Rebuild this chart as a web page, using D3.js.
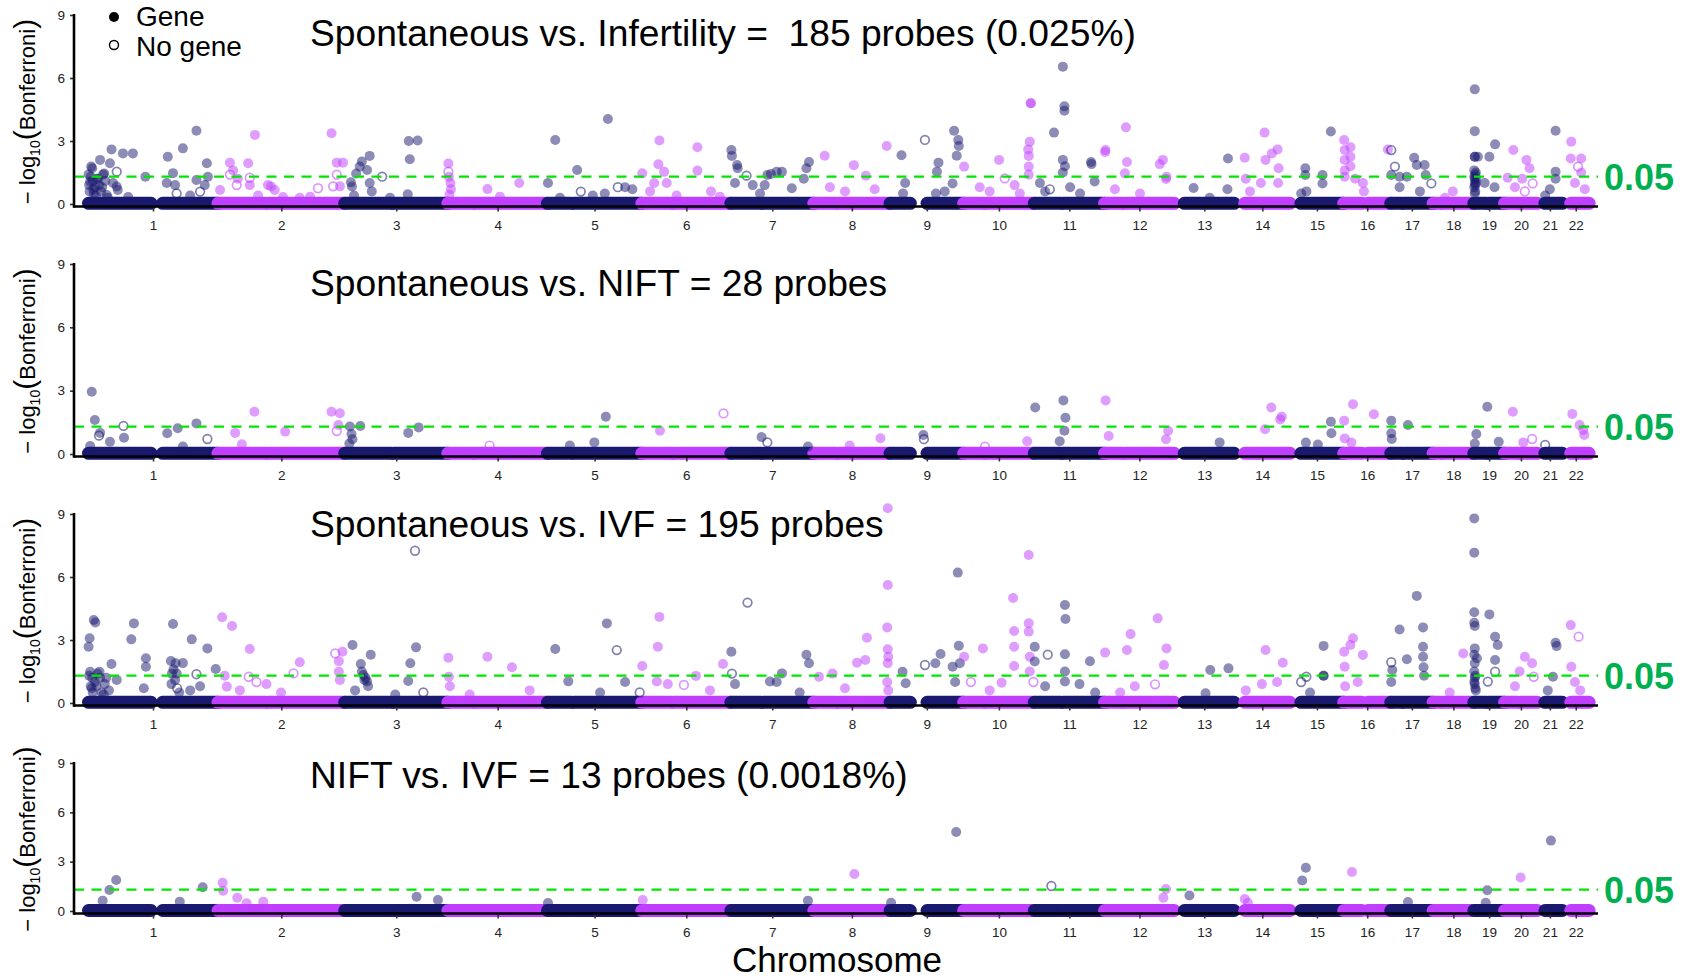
<!DOCTYPE html>
<html>
<head>
<meta charset="utf-8">
<script src="https://cdn.jsdelivr.net/npm/d3@7"></script>
<style>
  body { margin: 0; background: #fff; }
  svg { display: block; }
  text { font-family: "Liberation Sans", Arial, Helvetica, sans-serif; }
</style>
</head>
<body>
<svg id="chart" width="1688" height="979"></svg>
<script>
// ---- data -------------------------------------------------------------
const chromosomes = ["1","2","3","4","5","6","7","8","9","10","11","12","13","14","15","16","17","18","19","20","21","22"];
// chromosome lengths (Mb)
const chromLengthMb = [249.3,243.2,198.0,191.2,180.9,171.1,159.1,146.4,141.2,135.5,135.0,133.9,115.2,107.3,102.5,90.4,81.2,78.1,59.1,63.0,48.1,51.3];
// stretches covered by probes (chromosome, start Mb, end Mb)
const probeSpans = [
  [1,0.8,121],[1,143,249],[2,0.1,92],[2,96,243],[3,0.1,90],[3,94,198],[4,0.1,49],[4,52,191],
  [5,0.1,46],[5,50,181],[6,0.2,58],[6,62,171],[7,0.1,58],[7,62,159],[8,0.1,43],[8,47,146],
  [9,0.1,39],[9,71,141],[10,0.1,39],[10,43,135],[11,0.2,51],[11,55,135],[12,0.1,34],[12,38,133.8],
  [13,19.2,115],[14,20,107],[15,20.5,102.4],[16,0.1,35],[16,46.5,90.3],[17,0.1,22],[17,25,81.1],
  [18,0.1,15],[18,18.5,78],[19,0.2,24.5],[19,28,59],[20,0.1,26],[20,30,62.9],[21,14.5,48],[22,16,51.2]
];
const yTicks = [0, 3, 6, 9];
const bonferroniCut = 1.3;            // -log10(0.05)
const cutLabel = "0.05";
const panelTitles = [
  "Spontaneous vs. Infertility =  185 probes (0.025%)",
  "Spontaneous vs. NIFT = 28 probes",
  "Spontaneous vs. IVF = 195 probes",
  "NIFT vs. IVF = 13 probes (0.0018%)"
];
const legendLabels = ["Gene", "No gene"];

// probes above the background: [chromosome, position Mb, -log10(Bonferroni), annotated gene 1/0]
const spontVsInfertility = [
  [1,6,1.78,1],[1,23,2.1,1],[1,45,2.6,1],[1,67,2.41,1],[1,86,2.41,1],[1,42,1.94,1],[1,55,1.54,0],[1,29,1.41,1],
  [1,1,1.41,1],[1,4,1.06,1],[1,13,0.8,1],[1,17,1.2,1],[1,31,1.45,1],[1,8,1.7,1],[1,110,1.3,1],[1,36,0.43,1],
  [1,57,0.67,1],[1,77,0.33,1],[1,55,0.83,1],[1,11,0.5,1],[1,21,0.9,1],[1,25,0.6,1],[1,38,0.3,1],[1,48,1.0,1],
  [1,2,0.9,1],[1,3,0.6,1],[1,5,1.3,1],[1,9,1.1,1],[1,10,0.7,1],[1,15,0.4,1],[1,19,1.2,1],[1,27,0.8,1],[1,33,1.1,1],
  [1,153,2.25,1],[1,182,2.65,1],[1,208,3.49,1],[1,163,1.47,1],[1,151,1.0,1],[1,167,0.9,1],[1,228,1.94,1],
  [1,208,1.14,1],[1,224,0.9,1],[1,215,0.59,0],[1,170,0.5,0],[1,230,1.3,1],[1,196,0.4,1],
  [2,23,1.97,1],[2,29,1.6,1],[2,23,1.4,0],[2,38,1.2,1],[2,36,0.9,0],[2,4,0.67,1],[2,58,1.94,1],[2,61,1.25,0],
  [2,71,3.29,1],[2,61,0.9,1],[2,96,0.9,1],[2,109,0.67,1],[2,77,0.4,1],[2,125,0.33,1],[2,102,0.83,1],[2,192,0.75,0],
  [2,218,3.37,1],[2,228,1.97,1],[2,240,1.97,1],[2,228,1.4,0],[2,221,0.84,0],[2,234,0.84,1],[2,157,0.3,1],[2,177,0.35,1],
  [3,48,2.29,1],[3,33,2.02,1],[3,29,1.78,1],[3,43,1.62,1],[3,48,1.0,1],[3,14,0.83,1],[3,72,1.3,0],[3,123,3.0,1],
  [3,140,3.02,1],[3,125,2.13,1],[3,121,0.46,1],[3,12,1.03,1],[3,22,1.45,1],[3,52,0.6,1],[3,18,0.4,1],[3,87,0.3,1],
  [4,1,1.93,1],[4,1,1.54,0],[4,2,1.3,1],[4,5,1.0,1],[4,6,0.7,1],[4,3,0.45,1],[4,76,0.71,1],[4,137,1.0,1],[4,100,0.35,1],
  [5,1,1.0,1],[5,15,3.05,1],[5,57,1.62,1],[5,116,4.05,1],[5,64,0.59,0],[5,110,0.5,1],[5,135,0.8,0],[5,149,0.8,1],
  [5,163,0.7,1],[5,24,0.3,1],[5,87,0.4,1],
  [6,34,3.02,1],[6,32,1.89,1],[6,43,1.53,1],[6,24,1.0,1],[6,1,1.46,1],[6,48,1.0,1],[6,107,2.7,1],[6,107,1.59,1],
  [6,133,0.6,1],[6,67,0.4,1],[6,16,0.6,1],[6,150,0.35,1],
  [7,1,2.57,1],[7,2,2.29,1],[7,12,1.86,1],[7,13,1.7,1],[7,30,1.35,0],[7,42,0.9,1],[7,70,1.38,1],[7,77,1.43,1],
  [7,88,1.53,1],[7,98,1.53,1],[7,145,1.7,1],[7,150,2.0,1],[7,140,1.2,1],[7,65,0.9,1],[7,117,0.75,1],[7,8,1.0,1],[7,56,0.5,1],
  [8,21,2.3,1],[8,77,1.85,1],[8,100,1.35,1],[8,140,2.76,1],[8,31,0.8,1],[8,60,0.6,1],[8,117,0.7,1],
  [9,22,2.32,1],[9,67,3.05,0],[9,93,1.97,1],[9,123,3.49,1],[9,131,3.05,1],[9,132,2.76,1],[9,128,2.3,1],[9,120,0.98,1],
  [9,90,1.54,1],[9,88,0.5,1],[9,29,1.0,1],[9,25,0.5,1],[9,105,0.6,1],
  [10,68,2.1,1],[10,79,1.22,0],[10,124,2.6,1],[10,127,2.97,1],[10,129,4.8,1],[10,129,4.8,1],[10,125,2.29,1],
  [10,125,1.78,1],[10,125,1.4,1],[10,1,1.78,1],[10,31,0.8,1],[10,50,0.6,1],[10,98,0.9,1],[10,108,0.5,1],
  [11,38,3.4,1],[11,55,6.54,1],[11,58,4.65,1],[11,58,4.44,1],[11,55,2.1,1],[11,59,1.8,1],[11,55,1.5,1],[11,109,2.0,1],
  [11,110,1.9,1],[11,116,1.07,1],[11,11,1.0,1],[11,30,0.7,0],[11,21,0.6,1],[11,69,0.8,1],[11,88,0.5,1],
  [12,1,2.48,1],[12,2,2.57,1],[12,41,3.65,1],[12,43,2.0,1],[12,39,1.46,1],[12,106,1.9,1],[12,112,2.1,1],[12,118,1.19,1],
  [12,119,1.3,1],[12,20,0.7,1],[12,68,0.5,1],
  [13,37,0.76,1],[13,103,2.17,1],[13,102,0.7,1],[13,68,0.3,1],
  [14,20,2.2,1],[14,58,3.4,1],[14,72,2.41,1],[14,83,2.6,1],[14,60,2.1,1],[14,85,1.7,1],[14,84,1.0,1],[14,51,1.0,1],
  [14,30,0.6,1],[14,22,1.2,1],
  [15,29,1.7,1],[15,29,1.38,1],[15,62,1.38,1],[15,78,3.45,1],[15,62,0.98,1],[15,31,0.6,1],[15,21,0.5,1],
  [16,1,3.05,1],[16,2,2.57,1],[16,2,2.1,1],[16,2,1.6,1],[16,2,1.3,1],[16,13,2.7,1],[16,13,2.25,1],[16,13,1.8,1],
  [16,37,1.0,1],[16,39,0.6,1],[16,22,1.2,1],[16,85,2.6,1],
  [17,1,2.57,0],[17,8,1.78,0],[17,1,1.38,1],[17,17,1.3,1],[17,45,2.2,1],[17,50,1.86,1],[17,65,1.86,1],[17,67,1.38,1],
  [17,31,1.3,1],[17,17,0.8,1],[17,78,0.98,0],[17,56,0.6,1],
  [18,38,0.6,1],[18,23,0.3,1],
  [19,2,5.46,1],[19,2,3.47,1],[19,2,2.25,1],[19,2,2.25,1],[19,1,1.6,1],[19,3,1.4,1],[19,2,1.2,1],[19,4,1.0,1],
  [19,1,0.8,1],[19,3,0.6,1],[19,8,2.25,1],[19,30,2.25,1],[19,41,2.84,1],[19,21,1.0,1],[19,40,0.8,1],
  [19,1,1.3,1],[19,2,1.0,1],[19,3,0.9,1],[19,2,0.5,1],[19,4,1.5,1],[19,5,1.2,1],
  [20,17,2.57,1],[20,42,2.1,1],[20,48,1.7,1],[20,34,1.2,1],[20,6,1.25,1],[20,54,0.98,0],[20,39,0.6,0],[20,20,0.8,1],
  [21,35,3.49,1],[21,35,1.54,1],[21,35,1.2,1],[21,24,0.7,1],[21,15,0.4,1],
  [22,17,2.97,1],[22,36,2.17,1],[22,16,2.17,1],[22,30,1.78,0],[22,36,1.5,1],[22,24,1.0,1],[22,43,0.7,1]
];

const spontVsNift = [
  [1,7,2.95,1],[1,13,1.61,1],[1,23,1.0,1],[1,21,0.87,0],[1,42,0.58,1],[1,4,0.38,1],[1,68,1.33,0],[1,69,0.77,1],
  [1,152,0.98,1],[1,172,1.22,1],[1,208,1.45,1],[1,229,0.71,0],[1,182,0.35,1],
  [2,33,1.0,1],[2,46,0.46,1],[2,70,2.0,1],[2,129,1.06,1],[2,218,2.0,1],[2,234,1.93,1],[2,231,1.37,1],[2,228,1.09,0],
  [3,10,1.3,1],[3,30,1.33,1],[3,13,0.95,1],[3,15,0.7,1],[3,9,0.5,1],[3,122,1.0,1],[3,142,1.26,1],
  [4,80,0.4,0],
  [5,112,1.77,1],[5,90,0.55,1],[5,43,0.4,1],
  [6,35,1.1,1],[6,157,1.92,0],
  [7,59,0.8,1],[7,70,0.55,0],[7,148,0.35,1],
  [8,128,0.75,1],[8,69,0.4,1],
  [9,64,0.9,1],[9,65,0.7,0],
  [10,41,0.35,0],[10,122,0.6,1],
  [11,2,2.2,1],[11,56,2.54,1],[11,60,1.72,1],[11,58,1.1,1],[11,49,0.6,1],
  [12,2,2.54,1],[12,8,0.85,1],[12,122,1.1,1],[12,118,0.7,1],
  [13,87,0.55,1],
  [14,71,2.2,1],[14,91,1.77,1],[14,88,1.64,1],[14,59,1.17,1],
  [15,78,1.53,1],[15,79,0.98,1],[15,30,0.54,1],[15,53,0.45,1],
  [16,1,1.58,1],[16,2,0.74,1],[16,18,2.36,1],[16,15,0.54,1],[16,58,1.88,1],
  [17,1,1.58,1],[17,1,0.98,1],[17,2,0.71,1],[17,33,1.37,1],
  [19,26,2.24,1],[19,5,0.95,1],[19,2,0.5,1],[19,48,0.58,1],
  [20,16,2.0,1],[20,36,0.55,1],[20,53,0.71,0],
  [21,15,0.43,0],
  [22,19,1.9,1],[22,33,1.37,1],[22,40,1.14,1],[22,42,0.9,1]
];

const spontVsIvf = [
  [1,11,3.95,1],[1,14,3.83,1],[1,3,3.08,1],[1,1,2.68,1],[1,88,3.79,1],[1,83,3.03,1],[1,45,1.86,1],[1,111,2.13,1],
  [1,111,1.73,1],[1,22,1.49,1],[1,4,1.49,1],[1,55,1.1,1],[1,107,0.7,1],[1,7,0.7,1],[1,40,0.6,1],[1,13,1.0,1],
  [1,23,1.2,1],[1,32,0.9,1],
  [1,2,1.3,1],[1,5,0.8,1],[1,8,1.2,1],[1,9,0.5,1],[1,16,0.8,1],[1,18,1.4,1],[1,26,0.5,1],[1,35,1.2,1],[1,30,0.4,1],
  [1,163,3.76,1],[1,199,3.03,1],[1,229,2.6,1],[1,159,2.0,1],[1,168,1.89,1],[1,182,1.9,1],[1,208,1.37,0],[1,245,1.62,1],
  [1,167,1.1,1],[1,171,0.7,0],[1,215,0.8,1],[1,161,1.4,1],[1,196,0.6,1],
  [1,160,0.9,1],[1,164,1.6,1],[1,170,1.4,1],[1,175,0.5,1],
  [2,8,4.08,1],[2,27,3.67,1],[2,61,2.57,1],[2,59,1.25,0],[2,74,1.0,0],[2,17,0.78,1],[2,42,0.6,1],[2,93,0.9,1],
  [2,121,0.5,1],[2,145,1.41,0],[2,157,1.94,1],[2,225,2.36,0],[2,232,1.99,1],[2,239,2.44,1],[2,232,1.49,1],[2,234,1.1,1],[2,13,1.3,1],
  [3,15,2.76,1],[3,31,1.86,1],[3,50,2.3,1],[3,36,1.33,1],[3,43,1.02,1],[3,20,0.6,1],[3,135,7.25,0],[3,137,2.65,1],
  [3,126,1.89,1],[3,122,1.05,1],[3,151,0.5,0],[3,97,0.4,1],
  [3,33,1.5,1],[3,38,1.1,1],[3,45,0.8,1],[3,40,1.2,1],
  [4,1,2.16,1],[4,2,1.25,1],[4,4,0.8,1],[4,76,2.2,1],[4,123,1.7,1],[4,157,0.6,1],[4,42,0.4,1],
  [5,15,2.57,1],[5,40,1.03,1],[5,114,3.79,1],[5,133,2.52,0],[5,149,1.0,1],[5,177,0.5,0],[5,101,0.5,1],
  [6,34,4.1,1],[6,31,2.68,1],[6,1,1.76,1],[6,29,1.02,1],[6,50,0.9,1],[6,81,0.86,0],[6,104,1.29,1],[6,156,1.86,1],[6,131,0.6,1],
  [7,1,2.44,1],[7,2,1.4,0],[7,32,4.78,0],[7,8,0.9,1],[7,75,1.02,1],[7,88,1.0,1],[7,98,1.41,1],[7,145,2.3,1],
  [7,150,1.89,1],[7,132,0.5,1],
  [8,10,1.25,1],[8,36,1.4,1],[8,83,1.92,1],[8,99,2.05,1],[8,102,3.11,1],[8,142,9.27,1],[8,142,5.62,1],[8,141,3.6,1],
  [8,142,2.56,1],[8,143,2.2,1],[8,142,1.89,1],[8,141,1.0,1],[8,143,0.6,1],[8,60,0.7,1],
  [9,24,1.49,1],[9,30,0.94,1],[9,67,1.81,0],[9,87,1.89,1],[9,97,2.33,1],[9,130,6.21,1],[9,132,2.73,1],[9,134,1.89,1],
  [9,120,1.73,1],[9,125,1.0,1],
  [10,1,2.2,1],[10,14,1.0,0],[10,37,2.6,1],[10,73,0.97,1],[10,95,5.0,1],[10,97,3.43,1],[10,97,2.68,1],[10,97,1.76,1],
  [10,125,7.05,1],[10,125,3.8,1],[10,125,3.4,1],[10,127,2.2,1],[10,127,1.5,1],[10,134,1.0,0],[10,50,0.6,1],
  [11,1,2.68,1],[11,1,1.98,1],[11,26,2.3,0],[11,59,4.67,1],[11,60,4.0,1],[11,59,2.32,1],[11,59,1.5,1],[11,59,1.02,1],
  [11,87,0.9,1],[11,107,1.99,1],[11,117,0.5,1],[11,21,0.8,1],
  [12,1,2.4,1],[12,43,2.52,1],[12,50,3.28,1],[12,102,4.03,1],[12,119,2.6,1],[12,114,1.81,1],[12,97,0.89,0],
  [12,58,0.8,1],[12,30,0.5,1],
  [13,69,1.57,1],[13,104,1.65,1],[13,60,0.46,1],
  [14,60,2.52,1],[14,93,1.92,1],[14,53,0.9,1],[14,82,1.0,1],[14,22,0.6,1],
  [15,64,2.72,1],[15,64,1.3,1],[15,64,1.3,1],[15,31,1.25,0],[15,21,1.0,0],[15,38,0.5,1],
  [16,1,2.44,1],[16,18,3.08,1],[16,13,2.76,1],[16,37,2.29,1],[16,2,1.73,1],[16,27,1.0,1],[16,3,0.8,1],
  [17,1,1.94,0],[17,17,3.5,1],[17,50,5.1,1],[17,62,3.6,1],[17,31,2.08,1],[17,62,2.68,1],[17,62,2.2,1],[17,63,1.7,1],
  [17,64,1.3,1],[17,3,1.57,1],[17,1,1.0,1],
  [18,58,2.36,1],[18,32,0.5,1],
  [19,1,8.79,1],[19,1,7.16,1],[19,1,4.32,1],[19,1,3.82,1],[19,2,3.67,1],[19,30,4.22,1],[19,1,2.3,1],[19,2,1.9,1],
  [19,6,2.13,1],[19,41,3.16,1],[19,46,2.76,1],[19,41,2.05,1],[19,41,1.49,0],[19,27,1.02,0],[19,2,1.2,1],[19,1,1.0,1],[19,3,0.7,1],
  [19,1,1.5,1],[19,2,0.9,1],[19,3,1.3,1],[19,4,0.6,1],[19,2,2.6,1],
  [20,39,2.2,1],[20,53,1.89,1],[20,56,1.25,0],[20,29,1.5,1],[20,20,0.8,1],
  [21,35,2.87,1],[21,37,2.71,1],[21,30,1.25,1],[21,20,0.6,1],
  [22,16,3.71,1],[22,31,3.16,0],[22,17,1.73,1],[22,24,1.0,1],[22,34,0.6,1]
];

const niftVsIvf = [
  [1,54,1.89,1],[1,41,1.28,1],[1,28,0.63,1],[1,176,0.57,1],[1,220,1.44,1],
  [2,9,1.72,1],[2,10,1.23,1],[2,37,0.81,1],[2,55,0.47,1],[2,87,0.57,1],
  [3,138,0.87,1],[3,179,0.67,1],
  [5,1,0.48,1],
  [6,2,0.67,1],
  [7,148,0.63,1],
  [8,78,2.25,1],
  [9,2,0.5,1],[9,127,4.8,1],
  [11,33,1.52,0],
  [12,118,1.34,1],[12,113,0.8,1],
  [13,29,0.94,1],
  [14,20,0.73,1],[14,26,0.5,1],
  [15,30,2.63,1],[15,23,1.85,1],
  [16,16,2.37,1],
  [17,33,0.55,1],
  [19,26,1.26,1],[19,23,0.5,1],
  [20,31,2.04,1],
  [21,26,4.28,1]
];

const panelData = [spontVsInfertility, spontVsNift, spontVsIvf, niftVsIvf];

// ---- layout -----------------------------------------------------------
const W = 1688, H = 979;
const plotLeft = 74, plotRight = 1598;
const panels = [
  { top: 15,  bottom: 204 },
  { top: 264, bottom: 454 },
  { top: 514, bottom: 703 },
  { top: 763, bottom: 911 }
];
const titleBaselines = [46, 296, 537, 788];
const NAVY = "#191970", ORCHID = "#bf3eff", CUT_GREEN = "#00e600", LABEL_GREEN = "#00b050";
const chromColor = c => (c % 2 === 1 ? NAVY : ORCHID);

const svg = d3.select("#chart");
svg.append("rect").attr("width", W).attr("height", H).attr("fill", "#fff");

// cumulative chromosome offsets along the genome
const offsets = [];
chromLengthMb.reduce((acc, len, i) => { offsets[i] = acc; return acc + len; }, 0);
const genomeLen = d3.sum(chromLengthMb);
const gpos = (chr, mb) => offsets[chr - 1] + Math.max(0, Math.min(mb, chromLengthMb[chr - 1]));

const x = d3.scaleLinear().domain([-27, genomeLen + 17]).range([plotLeft, plotRight]);
const tickPositions = chromosomes.map((c, i) => offsets[i] + chromLengthMb[i] / 2);

panels.forEach((p, pi) => {
  const y = d3.scaleLinear().domain([0, 9]).range([p.bottom, p.top]);
  const g = svg.append("g");
  const axisY = p.bottom + 2.5;

  // background probes: dense band at the baseline
  g.append("g").selectAll("line").data(probeSpans).join("line")
    .attr("x1", d => x(gpos(d[0], d[1])))
    .attr("x2", d => x(gpos(d[0], d[2])))
    .attr("y1", y(0.03)).attr("y2", y(0.03))
    .attr("stroke", d => chromColor(d[0]))
    .attr("stroke-width", 13)
    .attr("stroke-linecap", "round");

  // probes above background
  const pts = panelData[pi];
  g.append("g").selectAll("circle").data(pts).join("circle")
    .attr("cx", d => x(gpos(d[0], d[1])))
    .attr("cy", d => y(d[2]))
    .attr("r", d => d[3] ? 5 : 4.3)
    .attr("fill", d => d[3] ? chromColor(d[0]) : "none")
    .attr("fill-opacity", 0.5)
    .attr("stroke", d => d[3] ? "none" : chromColor(d[0]))
    .attr("stroke-opacity", 0.55)
    .attr("stroke-width", 1.7);

  // Bonferroni cut-off
  g.append("line")
    .attr("x1", plotLeft).attr("x2", plotRight)
    .attr("y1", y(bonferroniCut)).attr("y2", y(bonferroniCut))
    .attr("stroke", CUT_GREEN).attr("stroke-width", 2.2)
    .attr("stroke-dasharray", "10,7.5");
  g.append("text")
    .attr("x", 1604).attr("y", y(bonferroniCut))
    .attr("dy", "0.36em")
    .attr("font-size", 36).attr("font-weight", "bold")
    .attr("fill", LABEL_GREEN)
    .text(cutLabel);

  // x axis
  const xAxis = d3.axisBottom(x).tickValues(tickPositions)
    .tickFormat((d, i) => chromosomes[i]).tickSize(5).tickSizeOuter(0);
  const xg = g.append("g").attr("transform", `translate(0,${axisY})`).call(xAxis);
  xg.select(".domain").remove();
  xg.selectAll(".tick line").attr("stroke", "#333").attr("stroke-width", 1.6);
  xg.selectAll(".tick text").attr("font-size", 13.5).attr("fill", "#222")
    .attr("font-family", "Liberation Sans, Arial, sans-serif").attr("dy", "1.15em");
  g.append("line").attr("x1", plotLeft).attr("x2", plotRight)
    .attr("y1", axisY).attr("y2", axisY)
    .attr("stroke", "#000").attr("stroke-width", 2.6);

  // y axis
  const yAxis = d3.axisLeft(y).tickValues(yTicks).tickSize(4).tickSizeOuter(0);
  const yg = g.append("g").attr("transform", `translate(${plotLeft},0)`).call(yAxis);
  yg.select(".domain").remove();
  yg.selectAll(".tick line").attr("stroke", "#333").attr("stroke-width", 1.6);
  yg.selectAll(".tick text").attr("font-size", 13.5).attr("fill", "#222")
    .attr("font-family", "Liberation Sans, Arial, sans-serif").attr("x", -9);
  g.append("line").attr("x1", plotLeft).attr("x2", plotLeft)
    .attr("y1", y(9) - 1).attr("y2", axisY + 1.3)
    .attr("stroke", "#000").attr("stroke-width", 2.6);

  // y axis title: − log10(Bonferroni)
  const midY = (p.top + p.bottom) / 2 + 2;
  const yt = g.append("text")
    .attr("transform", `translate(35,${midY}) rotate(-90)`)
    .attr("text-anchor", "middle")
    .attr("font-size", 22).attr("fill", "#000");
  yt.append("tspan").text("\u2212 log");
  yt.append("tspan").attr("font-size", 14).attr("dy", 5).text("10");
  yt.append("tspan").attr("font-size", 30).attr("dy", -5).text("(");
  yt.append("tspan").attr("font-size", 22).text("Bonferroni");
  yt.append("tspan").attr("font-size", 30).text(")");

  // panel title
  g.append("text")
    .attr("x", 310).attr("y", titleBaselines[pi])
    .attr("font-size", 37.2).attr("fill", "#000")
    .style("white-space", "pre")
    .text(panelTitles[pi]);
});

// legend
const lg = svg.append("g");
lg.append("circle").attr("cx", 114).attr("cy", 17).attr("r", 5).attr("fill", "#000");
lg.append("circle").attr("cx", 114).attr("cy", 45).attr("r", 4.5).attr("fill", "none")
  .attr("stroke", "#000").attr("stroke-width", 1.4);
lg.append("text").attr("x", 136).attr("y", 26).attr("font-size", 28).text(legendLabels[0]);
lg.append("text").attr("x", 136).attr("y", 56).attr("font-size", 28).text(legendLabels[1]);

// shared x axis title
svg.append("text").attr("x", 837).attr("y", 972)
  .attr("text-anchor", "middle").attr("font-size", 35).text("Chromosome");
</script>
</body>
</html>
